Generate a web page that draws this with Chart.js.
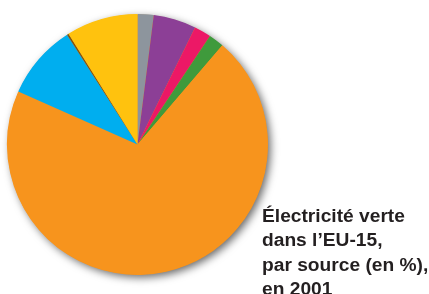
<!DOCTYPE html>
<html>
<head>
<meta charset="utf-8">
<script src="https://cdn.jsdelivr.net/npm/chart.js@4/dist/chart.umd.min.js"></script>
<style>
  html, body { margin: 0; padding: 0; background: #ffffff; }
  #wrap { position: relative; width: 429px; height: 294px; overflow: hidden; }
  #c { position: absolute; left: 0; top: 0; }
  #title {
    position: absolute; left: 262px; top: 204px;
    font-family: "Liberation Sans", Arial, sans-serif;
    font-weight: bold; font-size: 19.2px; line-height: 24.4px;
    color: #231f20; white-space: nowrap;
  }
</style>
</head>
<body>
<div id="wrap">
  <canvas id="c" width="429" height="294"></canvas>
  <div id="title">Électricité verte<br>dans l’EU-15,<br>par source (en %),<br>en 2001</div>
</div>
<script>
const categories = ["Géothermie", "Biogaz", "Solaire", "Déchets", "Hydraulique", "Éolien", "Autres", "Biomasse"];
const values = [2.0, 5.3, 2.1, 1.9, 70.6, 9.3, 0.2, 8.9];
const colors = ["#8d959d", "#8c3f96", "#ec1866", "#3f9a3c", "#f7941d", "#00aeef", "#7a5418", "#ffc20e"];

const shadowPlugin = {
  id: 'pieShadow',
  beforeDatasetsDraw(chart) {
    const meta = chart.getDatasetMeta(0);
    if (!meta.data.length) return;
    const arc = meta.data[0];
    const ctx = chart.ctx;
    ctx.save();
    ctx.shadowColor = 'rgba(0,0,0,0.6)';
    ctx.shadowBlur = 9;
    ctx.shadowOffsetX = 3;
    ctx.shadowOffsetY = 3;
    ctx.beginPath();
    ctx.arc(arc.x, arc.y, arc.outerRadius - 0.5, 0, Math.PI * 2);
    ctx.fillStyle = '#f7941d';
    ctx.fill();
    ctx.restore();
  }
};

new Chart(document.getElementById('c'), {
  type: 'pie',
  data: {
    labels: categories,
    datasets: [{
      data: values,
      backgroundColor: colors,
      borderWidth: 0,
      hoverOffset: 0
    }]
  },
  options: {
    responsive: false,
    animation: false,
    layout: { padding: { left: 7, top: 14, right: 161, bottom: 19 } },
    plugins: {
      legend: { display: false },
      tooltip: { enabled: false },
      title: { display: false }
    }
  },
  plugins: [shadowPlugin]
});
</script>
</body>
</html>
